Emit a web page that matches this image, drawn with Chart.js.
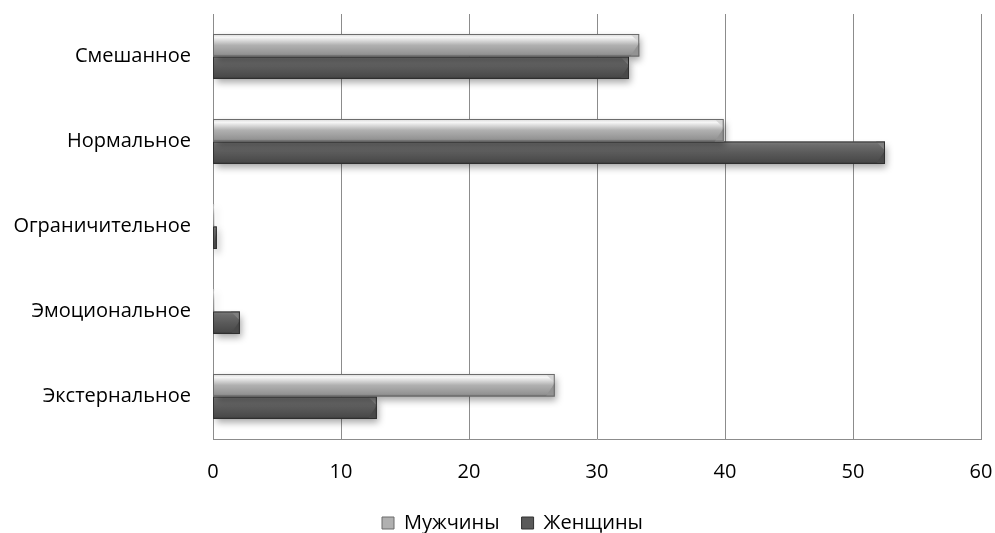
<!DOCTYPE html>
<html>
<head>
<meta charset="utf-8">
<script src="https://cdn.jsdelivr.net/npm/chart.js@4/dist/chart.umd.min.js"></script>
<style>
  html, body { margin: 0; padding: 0; background: #fff; }
  #wrap { width: 995px; height: 533px; }
</style>
</head>
<body>
<div id="wrap"><canvas id="myChart" width="995" height="533"></canvas></div>
<script>
const categories = ['Смешанное', 'Нормальное', 'Ограничительное', 'Эмоциональное', 'Экстернальное'];
const seriesNames = ['Мужчины', 'Женщины'];
const menValues = [33.3, 39.9, 0.1, 0.1, 26.7];
const womenValues = [32.5, 52.5, 0.3, 2.1, 12.8];
const xTicks = [0, 10, 20, 30, 40, 50, 60];

// оттенки: верх, блик, середина, низ, край
const shades = [
    ['#d6d6d6', '#f6f6f6', '#b0b0b0', '#939393', '#6a6a6a'],
    ['#808080', '#6c6c6c', '#5a5a5a', '#494949', '#303030']
];

// градиент, тень и фаска для каждого бара
const bevelPlugin = {
    id: 'bevel',
    afterLayout(chart) {
        // легенда в оригинале чуть правее центра
        chart.legend.left += 22;
        chart.legend.right += 22;
    },
    beforeDatasetDraw(chart, args) {
        const ctx = chart.ctx;
        const c = shades[args.index];
        args.meta.data.forEach(bar => {
            const top = bar.y - bar.height / 2;
            const g = ctx.createLinearGradient(0, top, 0, top + bar.height);
            g.addColorStop(0, c[0]);
            g.addColorStop(0.15, c[1]);
            g.addColorStop(0.5, c[2]);
            g.addColorStop(0.9, c[3]);
            g.addColorStop(1, c[4]);
            bar.options.backgroundColor = g;
        });
        ctx.save();
        ctx.shadowColor = 'rgba(0,0,0,0.35)';
        ctx.shadowBlur = 7;
        ctx.shadowOffsetX = 2;
        ctx.shadowOffsetY = 4;
    },
    afterDatasetDraw(chart, args) {
        const ctx = chart.ctx;
        ctx.restore();
        const c = shades[args.index];
        args.meta.data.forEach(bar => {
            const h = bar.height;
            const top = bar.y - h / 2;
            const left = bar.base;
            const w = bar.x - left;
            if (w < 2) return;
            const b = Math.min(h * 0.4, w);
            ctx.save();
            // фаска на торце
            ctx.beginPath();
            ctx.moveTo(bar.x - b, top);
            ctx.lineTo(bar.x, top);
            ctx.lineTo(bar.x, top + b);
            ctx.closePath();
            ctx.fillStyle = c[0];
            ctx.fill();
            ctx.beginPath();
            ctx.moveTo(bar.x, top + b);
            ctx.lineTo(bar.x, top + h);
            ctx.lineTo(bar.x - b, top + h);
            ctx.closePath();
            ctx.fillStyle = c[3];
            ctx.fill();
            ctx.strokeStyle = c[4];
            ctx.lineWidth = 1;
            ctx.strokeRect(left, top + 0.5, w - 0.5, h - 1);
            ctx.restore();
        });
    }
};

const ctx = document.getElementById('myChart').getContext('2d');
const myChart = new Chart(ctx, {
    type: 'bar',
    data: {
        labels: categories,
        datasets: [
            { label: seriesNames[0], data: menValues, backgroundColor: () => '#b0b0b0', borderWidth: 0 },
            { label: seriesNames[1], data: womenValues, backgroundColor: () => '#555555', borderWidth: 0 }
        ]
    },
    options: {
        indexAxis: 'y',
        responsive: false,
        animation: false,
        categoryPercentage: 0.53,
        barPercentage: 1.0,
        layout: { padding: { top: 14, right: 14, left: 0, bottom: -10 } },
        scales: {
            x: {
                min: 0,
                max: 60,
                afterBuildTicks(scale) {
                    scale.ticks = xTicks.map(v => ({ value: v }));
                },
                grid: { color: '#8c8c8c', lineWidth: 1, drawTicks: false },
                border: { color: '#8c8c8c' },
                ticks: { color: '#000', padding: 21, font: { family: 'Open Sans', size: 20 } },
                afterFit(scale) {
                    scale.height = 52;
                    scale.paddingLeft = 0;
                    scale.paddingRight = 0;
                }
            },
            y: {
                grid: { display: false, drawTicks: false },
                border: { color: '#8c8c8c' },
                ticks: { color: '#000', padding: 22, font: { family: 'Open Sans', size: 20 } },
                afterFit(scale) {
                    scale.width = 213;
                    scale.paddingTop = 0;
                    scale.paddingBottom = 0;
                }
            }
        },
        plugins: {
            legend: {
                position: 'bottom',
                labels: {
                    color: '#000',
                    boxWidth: 12,
                    boxHeight: 12,
                    padding: 22,
                    font: { family: 'Open Sans', size: 20 },
                    generateLabels(chart) {
                        return seriesNames.map((n, i) => ({
                            text: n,
                            fillStyle: shades[i][2],
                            strokeStyle: shades[i][4],
                            lineWidth: 1,
                            datasetIndex: i
                        }));
                    }
                }
            },
            tooltip: { enabled: false }
        }
    },
    plugins: [bevelPlugin]
});
</script>
</body>
</html>
